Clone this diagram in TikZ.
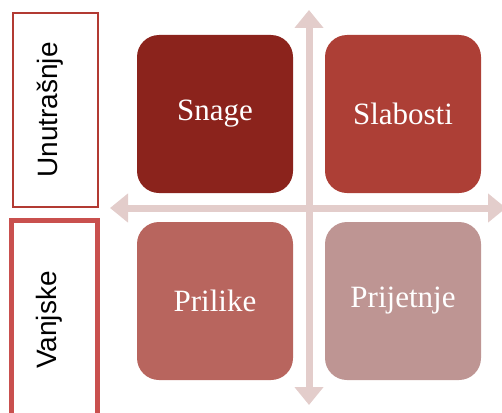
\documentclass[tikz,border=0pt]{standalone}
\usepackage{fontspec}
\setmainfont{Liberation Serif}
\newfontfamily\sidefont{Liberation Sans}
\usetikzlibrary{positioning}
\usetikzlibrary{arrows.meta}

\definecolor{snagecol}{HTML}{8B231C}
\definecolor{slabcol}{HTML}{AD3F36}
\definecolor{prilcol}{HTML}{B8655E}
\definecolor{prijcol}{HTML}{BE9593}
\definecolor{axiscol}{HTML}{E3CDCB}
\definecolor{unutcol}{HTML}{B23A33}
\definecolor{vanjcol}{HTML}{C9504E}

\begin{document}
\begin{tikzpicture}[
			x=1pt, y=-1pt,
			quad/.style={
				rectangle,
				minimum width=156pt,
				minimum height=158pt,
				rounded corners=22pt,
				inner sep=0pt,
				text=white,
				font=\fontsize{31}{31}\selectfont
			},
			side/.style={
				rectangle,
				fill=white,
				text depth=16pt,
				font=\sidefont\fontsize{28}{28}\selectfont
			},
			axis/.style={
				draw=axiscol,
				line width=7pt,
				{Triangle[width=28pt,length=18pt]}-{Triangle[width=28pt,length=18pt]}
			}
			]
			% Rahmen
			\useasboundingbox (0,0) rectangle (502,412);
			\clip (0,0) rectangle (502,412);
			
			% Osi
			\coordinate (top) at (309,10);
			\coordinate (bottom) at (309,405);
			\coordinate (left) at (110,208);
			\coordinate (right) at (506,208);
			\draw[axis] (bottom) -- (top);
			\draw[axis] (left) -- (right);
			
			% SWOT polja
			\node[quad, fill=snagecol] (snage) at (215,114) {Snage};
			\node[quad, fill=slabcol] (slabosti) at (403,114) {Slabosti};
			\node[quad, fill=prilcol] (prilike) at (215,301) {Prilike};
			\node[quad, fill=prijcol] (prijetnje) at (403,301) {Prijetnje};
			
			% Lijeve oznake
			\node[side, draw=unutcol, line width=2.5pt, minimum width=194pt, minimum height=85pt, rotate=90] (unutrasnje) at (55.5,110) {Unutrašnje};
			\node[side, draw=vanjcol, line width=5pt, minimum width=200pt, minimum height=86pt, rotate=90] (vanjske) at (54,320) {Vanjske};
			
		\end{tikzpicture}
\end{document}
